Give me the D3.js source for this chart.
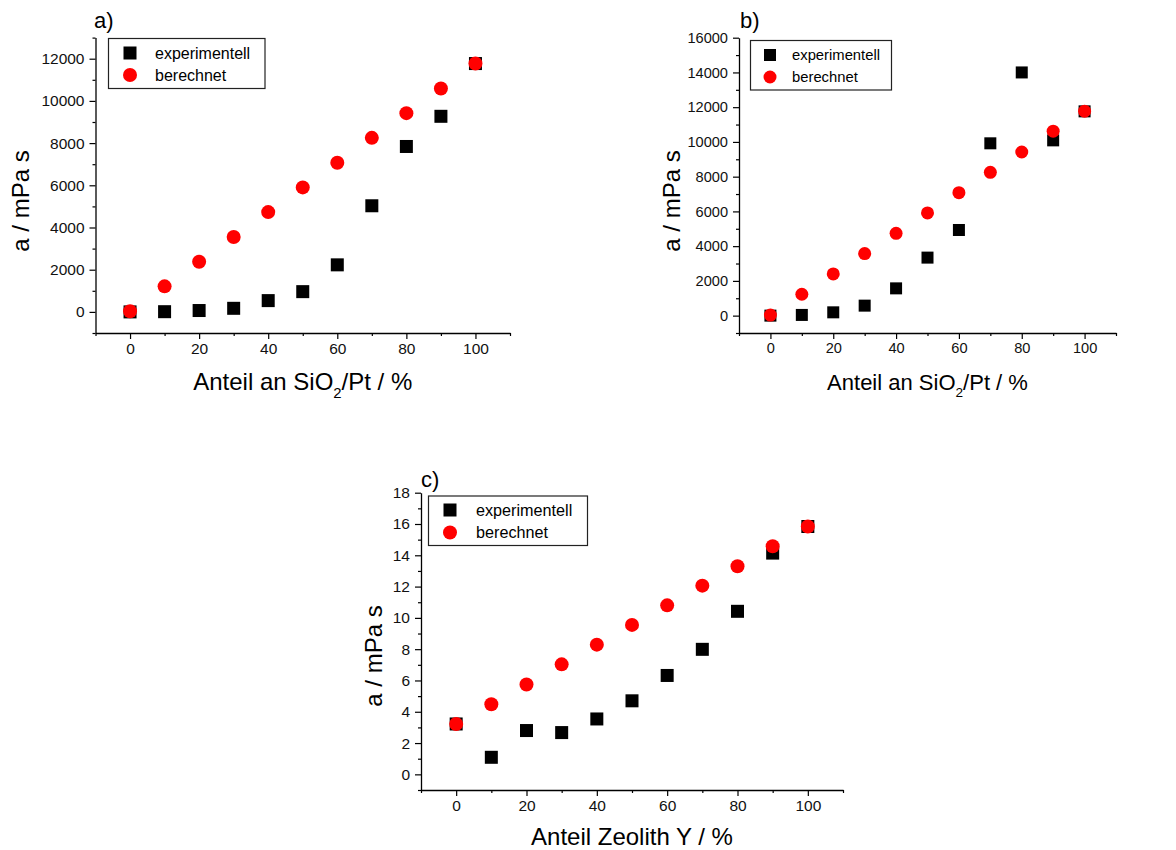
<!DOCTYPE html>
<html>
<head>
<meta charset="utf-8">
<script src="https://cdn.jsdelivr.net/npm/d3@7"></script>
<style>
  html, body { margin: 0; padding: 0; background: #fff; }
  svg { display: block; font-family: "Liberation Sans", Arial, sans-serif; }
</style>
</head>
<body>
<svg id="chart" width="1176" height="850"></svg>
<script>
// ---------- data ----------
const shares = [0, 10, 20, 30, 40, 50, 60, 70, 80, 90, 100];
const seriesNames = ["experimentell", "berechnet"];

// panel a) Anteil an SiO2/Pt
const aExperimentell = [0, 10, 65, 170, 535, 960, 2230, 5030, 7840, 9270, 11770];
const aBerechnet     = [30, 1210, 2380, 3550, 4730, 5900, 7070, 8250, 9420, 10590, 11770];

// panel b) Anteil an SiO2/Pt
const bExperimentell = [0, 40, 190, 575, 1570, 3340, 4930, 9920, 14000, 10090, 11760];
const bBerechnet     = [30, 1230, 2400, 3570, 4740, 5910, 7080, 8250, 9420, 10620, 11770];

// panel c) Anteil Zeolith Y
const cExperimentell = [3.22, 1.09, 2.80, 2.67, 3.54, 4.70, 6.32, 7.99, 10.42, 14.14, 15.84];
const cBerechnet     = [3.22, 4.48, 5.74, 7.03, 8.29, 9.55, 10.80, 12.06, 13.30, 14.58, 15.84];

// tick values
const xMajorTicks = [0, 20, 40, 60, 80, 100];
const xMinorTicks = [-10, 10, 30, 50, 70, 90, 110];
const aYMajorTicks = [0, 2000, 4000, 6000, 8000, 10000, 12000];
const aYMinorTicks = [-1000, 1000, 3000, 5000, 7000, 9000, 11000, 13000];
const bYMajorTicks = [0, 2000, 4000, 6000, 8000, 10000, 12000, 14000, 16000];
const bYMinorTicks = [-1000, 1000, 3000, 5000, 7000, 9000, 11000, 13000, 15000];
const cYMajorTicks = [0, 2, 4, 6, 8, 10, 12, 14, 16, 18];
const cYMinorTicks = [-1, 1, 3, 5, 7, 9, 11, 13, 15, 17];

// ---------- drawing ----------
const svg = d3.select("#chart");

function drawPanel(p) {
  const g = svg.append("g");
  const x = d3.scaleLinear().domain(p.xDomain).range([p.left, p.right]);
  const y = d3.scaleLinear().domain(p.yDomain).range([p.bottom, p.top]);

  // x axis
  const xAxis = g.append("g").attr("transform", `translate(0,${p.bottom})`);
  xAxis.call(d3.axisBottom(x).tickValues(xMajorTicks).tickSize(6).tickPadding(4).tickSizeOuter(0))
    .call(s => s.select(".domain").attr("stroke", "#000").attr("stroke-width", 1.3))
    .call(s => s.selectAll(".tick line").attr("stroke", "#000").attr("stroke-width", 1.2))
    .call(s => s.selectAll(".tick text").attr("fill", "#111").attr("font-size", p.tickFont)
      .attr("font-family", '"Liberation Sans", Arial, sans-serif'));
  g.append("g").attr("transform", `translate(0,${p.bottom})`)
    .call(d3.axisBottom(x).tickValues(xMinorTicks).tickSize(3).tickFormat("").tickSizeOuter(0))
    .call(s => s.select(".domain").remove())
    .call(s => s.selectAll(".tick line").attr("stroke", "#000").attr("stroke-width", 1.2));

  // y axis
  g.append("g").attr("transform", `translate(${p.left},0)`)
    .call(d3.axisLeft(y).tickValues(p.yMajor).tickSize(6).tickPadding(5).tickSizeOuter(0).tickFormat(d3.format("d")))
    .call(s => s.select(".domain").attr("stroke", "#000").attr("stroke-width", 1.3))
    .call(s => s.selectAll(".tick line").attr("stroke", "#000").attr("stroke-width", 1.2))
    .call(s => s.selectAll(".tick text").attr("fill", "#111").attr("font-size", p.tickFont)
      .attr("font-family", '"Liberation Sans", Arial, sans-serif'));
  g.append("g").attr("transform", `translate(${p.left},0)`)
    .call(d3.axisLeft(y).tickValues(p.yMinor).tickSize(3).tickFormat("").tickSizeOuter(0))
    .call(s => s.select(".domain").remove())
    .call(s => s.selectAll(".tick line").attr("stroke", "#000").attr("stroke-width", 1.2));

  // panel label
  g.append("text").attr("x", p.labelX).attr("y", p.labelY)
    .attr("font-size", 22).attr("fill", "#000").text(p.label);

  // y title
  g.append("text")
    .attr("transform", `translate(${p.yTitleX},${p.yTitleY}) rotate(-90)`)
    .attr("text-anchor", "middle").attr("font-size", p.yTitleFont).attr("fill", "#000")
    .text("a / mPa s");

  // x title
  const xt = g.append("text")
    .attr("x", (p.left + p.right) / 2).attr("y", p.xTitleY)
    .attr("text-anchor", "middle").attr("font-size", p.xTitleFont).attr("fill", "#000");
  p.xTitle.forEach(part => {
    const ts = xt.append("tspan").text(part.t);
    if (part.sub) ts.attr("font-size", p.xTitleFont * 0.62).attr("dy", p.xTitleFont * 0.33);
    else if (part.after) ts.attr("dy", -p.xTitleFont * 0.33);
  });

  // markers: squares then circles
  const sq = p.squareSize;
  g.append("g").selectAll("rect").data(shares.map((s, i) => [s, p.exp[i]])).join("rect")
    .attr("x", d => x(d[0]) - sq / 2).attr("y", d => y(d[1]) - sq / 2)
    .attr("width", sq).attr("height", sq).attr("fill", "#000");
  g.append("g").selectAll("circle").data(shares.map((s, i) => [s, p.calc[i]])).join("circle")
    .attr("cx", d => x(d[0])).attr("cy", d => y(d[1]))
    .attr("r", p.circleR).attr("fill", "#ff0000");

  // legend
  const lg = g.append("g");
  lg.append("rect").attr("x", p.legend.x).attr("y", p.legend.y)
    .attr("width", p.legend.w).attr("height", p.legend.h)
    .attr("fill", "#fff").attr("stroke", "#222").attr("stroke-width", 1.2);
  lg.append("rect").attr("x", p.legend.mx - sq / 2).attr("y", p.legend.my1 - sq / 2)
    .attr("width", sq).attr("height", sq).attr("fill", "#000");
  lg.append("circle").attr("cx", p.legend.mx).attr("cy", p.legend.my2)
    .attr("r", p.circleR).attr("fill", "#ff0000");
  lg.append("text").attr("x", p.legend.tx).attr("y", p.legend.my1).attr("dy", "0.35em")
    .attr("font-size", p.legend.font).attr("fill", "#000").text(seriesNames[0]);
  lg.append("text").attr("x", p.legend.tx).attr("y", p.legend.my2).attr("dy", "0.35em")
    .attr("font-size", p.legend.font).attr("fill", "#000").text(seriesNames[1]);
}

drawPanel({
  left: 95.5, right: 510, top: 37.6, bottom: 333,
  xDomain: [-10, 110], yDomain: [-1000, 13000],
  yMajor: aYMajorTicks, yMinor: aYMinorTicks,
  exp: aExperimentell, calc: aBerechnet,
  tickFont: 15.5, label: "a)", labelX: 94, labelY: 28,
  yTitleX: 29, yTitleY: 201, yTitleFont: 24,
  xTitleY: 390, xTitleFont: 24,
  xTitle: [{t: "Anteil an SiO"}, {t: "2", sub: true}, {t: "/Pt / %", after: true}],
  squareSize: 13, circleR: 7,
  legend: {x: 108.5, y: 38.5, w: 156.5, h: 50, mx: 130, my1: 53, my2: 75, tx: 155, font: 16}
});

drawPanel({
  left: 739, right: 1116, top: 37.7, bottom: 333,
  xDomain: [-10, 110], yDomain: [-1000, 16000],
  yMajor: bYMajorTicks, yMinor: bYMinorTicks,
  exp: bExperimentell, calc: bBerechnet,
  tickFont: 14.6, label: "b)", labelX: 740, labelY: 28,
  yTitleX: 680, yTitleY: 201, yTitleFont: 24,
  xTitleY: 390, xTitleFont: 22,
  xTitle: [{t: "Anteil an SiO"}, {t: "2", sub: true}, {t: "/Pt / %", after: true}],
  squareSize: 12, circleR: 6.5,
  legend: {x: 750.5, y: 40.5, w: 141, h: 49.5, mx: 770, my1: 55, my2: 77, tx: 792, font: 14.8}
});

drawPanel({
  left: 421, right: 843, top: 492.7, bottom: 790,
  xDomain: [-10, 110], yDomain: [-1, 18],
  yMajor: cYMajorTicks, yMinor: cYMinorTicks,
  exp: cExperimentell, calc: cBerechnet,
  tickFont: 15.5, label: "c)", labelX: 421, labelY: 487,
  yTitleX: 382, yTitleY: 656, yTitleFont: 24,
  xTitleY: 845, xTitleFont: 24,
  xTitle: [{t: "Anteil Zeolith Y / %"}],
  squareSize: 13, circleR: 7,
  legend: {x: 428.5, y: 496, w: 159, h: 49.5, mx: 450, my1: 510, my2: 532.5, tx: 476, font: 16.2}
});
</script>
</body>
</html>
